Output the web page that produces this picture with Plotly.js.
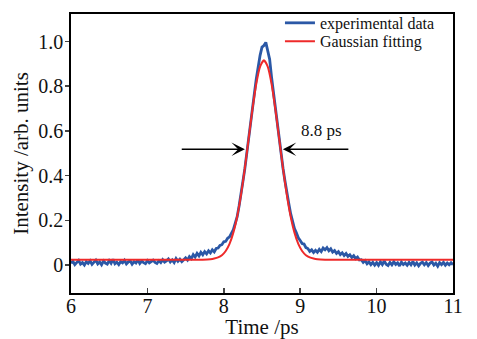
<!DOCTYPE html>
<html>
<head>
<meta charset="utf-8">
<script src="https://cdn.plot.ly/plotly-3.0.1.min.js"></script>
<style>html,body{margin:0;padding:0;background:#fff;}#chart{width:477px;height:339px;}</style>
</head>
<body>
<div id="chart"></div>
<script>
const expStart = 6.0;
const expStep = 0.025;
const expIntensity = [
  0.008, 0.017, 0.002, 0.013, 0.021, 0.004, 0.011, 0.000, 0.015, 0.007,
  0.019, 0.003, 0.012, 0.022, 0.005, 0.014, 0.001, 0.018, 0.009, 0.004,
  0.020, 0.008, 0.026, 0.006, 0.013, 0.002, 0.016, 0.010, 0.021, 0.005,
  0.014, 0.019, 0.004, 0.015, 0.009, 0.023, 0.007, 0.018, 0.011, 0.006,
  0.020, 0.010, 0.016, 0.022, 0.012, 0.007, 0.019, 0.011, 0.024, 0.013,
  0.019, 0.027, 0.014, 0.023, 0.011, 0.029, 0.017, 0.026, 0.015, 0.024,
  0.032, 0.022, 0.038, 0.029, 0.047, 0.036, 0.052, 0.041, 0.057, 0.046,
  0.060, 0.050, 0.064, 0.054, 0.068, 0.059, 0.074, 0.076, 0.088, 0.091,
  0.104, 0.106, 0.120, 0.126, 0.142, 0.158, 0.187, 0.216, 0.264, 0.310,
  0.374, 0.430, 0.502, 0.564, 0.634,
  0.698, 0.767, 0.833, 0.897, 0.938, 0.975, 0.982, 0.996, 0.960, 0.921,
  0.840, 0.770, 0.696, 0.634, 0.564, 0.502, 0.433, 0.377, 0.320, 0.277,
  0.230, 0.198, 0.163, 0.144, 0.122,
  0.110, 0.096, 0.094, 0.078, 0.074, 0.061, 0.068, 0.056, 0.066, 0.057,
  0.070, 0.060, 0.076, 0.068, 0.078, 0.064, 0.073, 0.058, 0.065, 0.052,
  0.060, 0.047, 0.055, 0.043, 0.052, 0.039, 0.046, 0.034, 0.042, 0.029,
  0.036, 0.023, 0.024, 0.012, 0.020, 0.006, 0.014, 0.002, 0.012, 0.000,
  0.011, -0.001, 0.014, 0.002, 0.018, 0.004, -0.002, 0.012, 0.001, 0.015,
  0.003, 0.010, -0.004, 0.013, 0.002, 0.009, -0.001, 0.012, 0.001, 0.016,
  0.000, 0.010, -0.003, 0.008, 0.013, 0.001, 0.011, -0.002, 0.009, 0.014,
  0.000, 0.008, -0.005, 0.011, 0.002, 0.012, -0.001, 0.009, 0.001, 0.010, 0.002
];

// Gaussian fitting curve samples
const fitTime = [6.0, 7.0, 7.6, 7.725, 7.825, 7.875, 7.925, 7.975, 8.025, 8.075,
  8.125, 8.175, 8.225, 8.275, 8.325, 8.375, 8.425, 8.475, 8.525, 8.575,
  8.625, 8.675, 8.725, 8.775, 8.825, 8.875, 8.925, 8.975, 9.025, 9.075,
  9.125, 9.175, 9.225, 9.325, 9.45, 10.0, 11.0];
const fitIntensity = [0.024, 0.024, 0.024, 0.024, 0.026, 0.029, 0.034, 0.044, 0.063, 0.095,
  0.145, 0.217, 0.314, 0.432, 0.565, 0.697, 0.811, 0.888, 0.916, 0.888,
  0.811, 0.697, 0.565, 0.432, 0.314, 0.217, 0.145, 0.095, 0.063, 0.044,
  0.034, 0.029, 0.026, 0.024, 0.024, 0.024, 0.024];

// Axis ticks
const xTicks = [6, 7, 8, 9, 10, 11];
const yTickVals = [0, 0.2, 0.4, 0.6, 0.8, 1.0];
const yTickText = ['0', '0.2', '0.4', '0.6', '0.8', '1.0'];

// FWHM annotation
const fwhmLabel = '8.8 ps';
const fwhmLevel = 0.518;
const fwhmLeft = 8.276, fwhmRight = 8.773;
const arrowTailLeft = 7.43, arrowTailRight = 9.65;

const expTime = expIntensity.map((_, i) => +(expStart + i * expStep).toFixed(3));

const FONT = '"Liberation Serif"';

const traces = [
  {x: expTime, y: expIntensity, type: 'scatter', mode: 'lines', name: 'experimental data',
   line: {color: '#2b58a6', width: 2.8}, legend: 'legend'},
  {x: fitTime, y: fitIntensity, type: 'scatter', mode: 'lines', name: 'Gaussian fitting',
   line: {color: '#ee2a2a', width: 2, shape: 'spline', smoothing: 0.6}, legend: 'legend2'}
];

const legendBase = {xanchor: 'left', yanchor: 'middle', bgcolor: 'rgba(0,0,0,0)', borderwidth: 0,
  font: {family: FONT, size: 16, color: '#111'}};

const layout = {
  width: 477, height: 339,
  margin: {l: 71, r: 24, t: 6, b: 46},
  paper_bgcolor: '#fff', plot_bgcolor: '#fff',
  font: {family: FONT, color: '#111', size: 20},
  showlegend: true,
  legend: Object.assign({x: 0.547, y: 0.968}, legendBase),
  legend2: Object.assign({x: 0.547, y: 0.902}, legendBase),
  xaxis: {range: [6, 11], tickvals: xTicks, ticks: 'inside', ticklen: 5, tickwidth: 1.5,
          showline: true, mirror: true, linecolor: '#000', linewidth: 1.8, showgrid: false, zeroline: false,
          tickfont: {family: FONT, size: 20, color: '#111'}, ticklabelstandoff: -6,
          title: {text: 'Time /ps', font: {family: FONT, size: 21, color: '#111'}, standoff: 2}},
  yaxis: {range: [-0.125, 1.123], tickvals: yTickVals, ticktext: yTickText, ticks: 'outside', ticklen: 4, tickwidth: 1.5,
          showline: true, mirror: true, linecolor: '#000', linewidth: 1.8, showgrid: false, zeroline: false,
          tickfont: {family: FONT, size: 20, color: '#111'}, ticklabelstandoff: -2,
          title: {text: 'Intensity /arb. units', font: {family: FONT, size: 21, color: '#111'}, standoff: 4}},
  annotations: [
    {x: fwhmLeft, y: fwhmLevel, ax: arrowTailLeft, ay: fwhmLevel, xref: 'x', yref: 'y', axref: 'x', ayref: 'y',
     text: '', showarrow: true, arrowhead: 3, arrowsize: 1.6, arrowwidth: 1.4, arrowcolor: '#000'},
    {x: fwhmRight, y: fwhmLevel, ax: arrowTailRight, ay: fwhmLevel, xref: 'x', yref: 'y', axref: 'x', ayref: 'y',
     text: '', showarrow: true, arrowhead: 3, arrowsize: 1.6, arrowwidth: 1.4, arrowcolor: '#000'},
    {x: 9.28, y: 0.6, xref: 'x', yref: 'y', text: fwhmLabel, showarrow: false,
     font: {family: FONT, size: 17, color: '#111'}}
  ]
};

Plotly.newPlot('chart', traces, layout, {staticPlot: true, displayModeBar: false});
</script>
</body>
</html>
